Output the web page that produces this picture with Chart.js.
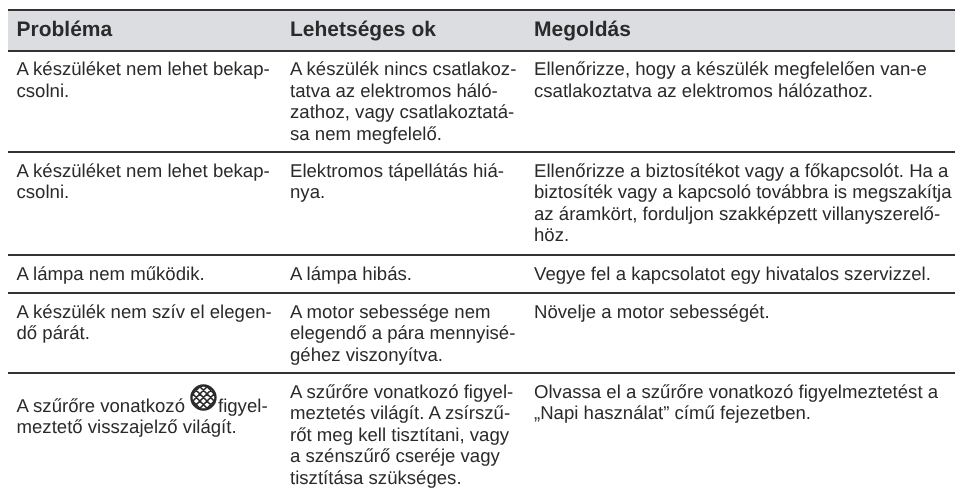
<!DOCTYPE html>
<html>
<head>
<meta charset="utf-8">
<script src="https://cdn.jsdelivr.net/npm/chart.js@4"></script>
<style>
  html, body { margin: 0; padding: 0; background: #fff; }
  #wrap { width: 955px; height: 491px; }
</style>
</head>
<body>
<div id="wrap"><canvas id="tableChart"></canvas></div>
<script>
const columnHeaders = ['Probléma', 'Lehetséges ok', 'Megoldás'];
const problems = [
    ['A készüléket nem lehet bekap-', 'csolni.'],
    ['A készüléket nem lehet bekap-', 'csolni.'],
    ['A lámpa nem működik.'],
    ['A készülék nem szív el elegen-', 'dő párát.'],
    ['A szűrőre vonatkozó', 'meztető visszajelző világít.']
];
const causes = [
    ['A készülék nincs csatlakoz-', 'tatva az elektromos háló-', 'zathoz, vagy csatlakoztatá-', 'sa nem megfelelő.'],
    ['Elektromos tápellátás hiá-', 'nya.'],
    ['A lámpa hibás.'],
    ['A motor sebessége nem', 'elegendő a pára mennyisé-', 'géhez viszonyítva.'],
    ['A szűrőre vonatkozó figyel-', 'meztetés világít. A zsírszű-', 'rőt meg kell tisztítani, vagy', 'a szénszűrő cseréje vagy', 'tisztítása szükséges.']
];
const solutions = [
    ['Ellenőrizze, hogy a készülék megfelelően van-e', 'csatlakoztatva az elektromos hálózathoz.'],
    ['Ellenőrizze a biztosítékot vagy a főkapcsolót. Ha a', 'biztosíték vagy a kapcsoló továbbra is megszakítja', 'az áramkört, forduljon szakképzett villanyszerelő-', 'höz.'],
    ['Vegye fel a kapcsolatot egy hivatalos szervizzel.'],
    ['Növelje a motor sebességét.'],
    ['Olvassa el a szűrőre vonatkozó figyelmeztetést a', '„Napi használat” című fejezetben.']
];
const iconTail = 'figyel-';

// table edges, in the units of the y axis
const headerBand = [10, 50.5];
const rowEdges = [10, 50.5, 152, 255, 293, 373];
const columnStarts = [16.5, 290, 534];

const bodyFont = '18.6px "Liberation Sans"';
const headFont = 'bold 21px "Liberation Sans"';
const textColor = '#2a2a2b';
const lineHeight = 21.6;

function drawIcon(ctx, cx, cy, r) {
    ctx.save();
    ctx.beginPath();
    ctx.arc(cx, cy, r, 0, Math.PI * 2);
    ctx.lineWidth = 2.4;
    ctx.strokeStyle = textColor;
    ctx.stroke();
    ctx.clip();
    ctx.lineWidth = 1.6;
    ctx.beginPath();
    for (let d = -r * 2.4; d <= r * 2.4; d += r * 0.6) {
        ctx.moveTo(cx + d - r * 1.5, cy - r * 1.5);
        ctx.lineTo(cx + d + r * 1.5, cy + r * 1.5);
        ctx.moveTo(cx + d + r * 1.5, cy - r * 1.5);
        ctx.lineTo(cx + d - r * 1.5, cy + r * 1.5);
    }
    ctx.stroke();
    ctx.restore();
}

const tableText = {
    id: 'tableText',
    afterDraw(chart) {
        const ctx = chart.ctx;
        const x = chart.scales.cols;
        const y = chart.scales.y;
        ctx.save();
        ctx.fillStyle = textColor;
        ctx.textBaseline = 'alphabetic';
        ctx.textAlign = 'left';
        ctx.textRendering = 'geometricPrecision';

        ctx.font = headFont;
        columnHeaders.forEach((h, c) => {
            ctx.fillText(h, x.getPixelForValue(columnStarts[c]), y.getPixelForValue(36));
        });

        ctx.font = bodyFont;
        [problems, causes, solutions].forEach((column, c) => {
            column.forEach((lines, r) => {
                // the icon makes the first line of the last problem taller
                const drop = (c === 0 && r === 4) ? 14 : 0;
                lines.forEach((line, i) => {
                    const py = y.getPixelForValue(rowEdges[r + 1] + 24.5 + drop + i * lineHeight);
                    ctx.fillText(line, x.getPixelForValue(columnStarts[c]), py);
                });
            });
        });

        // inline icon in the last problem
        const firstBase = y.getPixelForValue(rowEdges[5] + 24.5 + 14);
        const startX = x.getPixelForValue(columnStarts[0]);
        const w = ctx.measureText(problems[4][0]).width;
        drawIcon(ctx, startX + w + 18.5, firstBase - 14, 12);
        ctx.fillText(iconTail, startX + w + 33, firstBase);
        ctx.restore();
    }
};

new Chart(document.getElementById('tableChart'), {
    type: 'bar',
    data: {
        labels: [''],
        datasets: [{
            data: [headerBand],
            backgroundColor: '#dcdde0',
            barPercentage: 1,
            categoryPercentage: 1,
            xAxisID: 'x',
            yAxisID: 'y'
        }]
    },
    options: {
        responsive: true,
        maintainAspectRatio: false,
        animation: false,
        layout: { padding: { left: 8, right: 0, top: 0, bottom: 0 } },
        plugins: { legend: { display: false }, tooltip: { enabled: false }, title: { display: false } },
        scales: {
            x: { display: false },
            cols: { type: 'linear', axis: 'x', display: false, offset: false, min: 8, max: 955 },
            y: {
                type: 'linear',
                reverse: true,
                min: 0,
                max: 491,
                afterBuildTicks(axis) {
                    axis.ticks = rowEdges.map(v => ({ value: v }));
                },
                ticks: { display: false },
                border: { display: false },
                grid: { color: '#333335', lineWidth: 2, drawTicks: false, z: 1 }
            }
        }
    },
    plugins: [tableText]
});
</script>
</body>
</html>
